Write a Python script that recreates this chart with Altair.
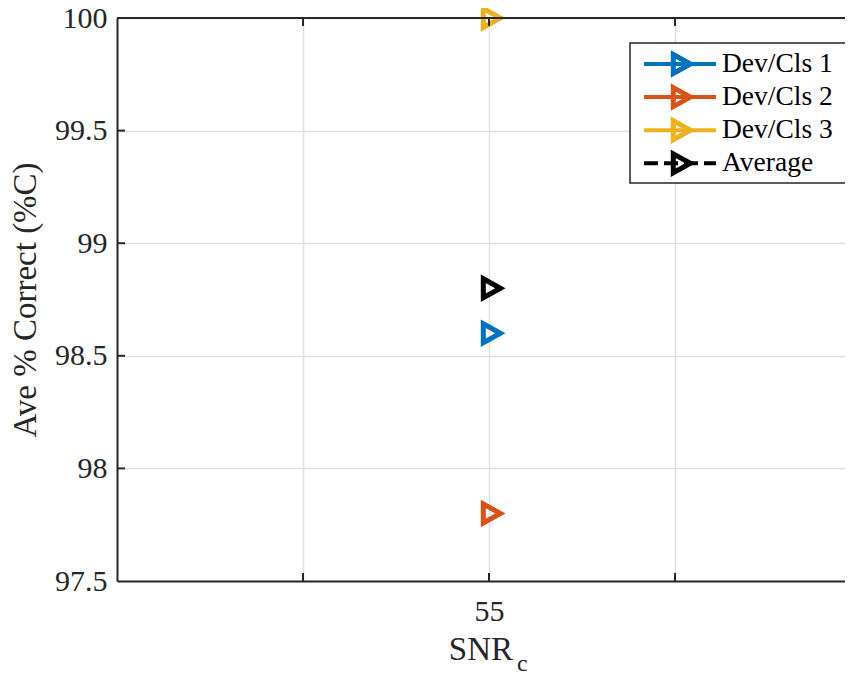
import altair as alt
import pandas as pd

# ---- data ----
series = ["Dev/Cls 1", "Dev/Cls 2", "Dev/Cls 3", "Average"]
snr = [55, 55, 55, 55]
pct = [98.6, 97.8, 100.0, 98.8]
colors = ["#0072BD", "#D95319", "#EDB120", "#000000"]
dashes = [[1, 0], [1, 0], [1, 0], [14, 6]]
x_ticks = [54.5, 55, 55.5]
y_ticks = [97.5, 98, 98.5, 99, 99.5, 100]
y_inner_ticks = [98, 98.5, 99, 99.5]
x_title = ["SNR"]
x_sub = ["c"]
y_title = "Ave % Correct (%C)"

df = pd.DataFrame({"series": series, "snr": snr, "pct": pct})
leg = pd.DataFrame({"series": series})
xt = pd.DataFrame({"v": x_ticks})
yt = pd.DataFrame({"v": y_inner_ticks})

FONT = "Liberation Serif"
AX = "#262626"
TRI = "M -0.6 -1 L 1.2 0 L -0.6 1 Z"
W, H = 728, 563

xscale = alt.Scale(domain=[54, 54 + W / 372], nice=False, zero=False)
yscale = alt.Scale(domain=[97.5, 100], nice=False, zero=False)
cscale = alt.Scale(domain=series, range=colors)
lscale = alt.Scale(type="point", domain=series, range=[46, 145.3], padding=0)

xaxis = alt.Axis(values=x_ticks, labelExpr="datum.value == 55 ? '55' : ''",
                 title=None, labelPadding=15, grid=True)
yaxis = alt.Axis(values=y_ticks, labelExpr="'' + datum.value", title=y_title,
                 labelPadding=10, titlePadding=12, grid=True)

points = alt.Chart(df).mark_point(shape=TRI, size=360, filled=False,
                                  strokeWidth=5, opacity=1).encode(
    x=alt.X("snr:Q", scale=xscale, axis=xaxis),
    y=alt.Y("pct:Q", scale=yscale, axis=yaxis),
    color=alt.Color("series:N", scale=cscale, legend=None),
)

top_line = alt.Chart(pd.DataFrame({"a": [0]})).mark_rule(color=AX, strokeWidth=2).encode(
    x=alt.value(0), x2=alt.value(W), y=alt.value(0))

xtick_bot = alt.Chart(xt).mark_rule(color=AX, strokeWidth=2).encode(
    x=alt.X("v:Q", scale=xscale, axis=xaxis),
    y=alt.value(H), y2=alt.value(H - 8),
)
xtick_top = alt.Chart(xt).mark_rule(color=AX, strokeWidth=2).encode(
    x=alt.X("v:Q", scale=xscale, axis=xaxis),
    y=alt.value(0), y2=alt.value(8),
)
ytick = alt.Chart(yt).mark_rule(color=AX, strokeWidth=2).encode(
    y=alt.Y("v:Q", scale=yscale, axis=None),
    x=alt.value(0), x2=alt.value(8),
)

box = alt.Chart(pd.DataFrame({"a": [0]})).mark_rect(
    fill="white", stroke=AX, strokeWidth=1.5).encode(
    x=alt.value(513), x2=alt.value(733), y=alt.value(25), y2=alt.value(165))

leg_lines = alt.Chart(leg).mark_rule(strokeWidth=4).encode(
    x=alt.value(527), x2=alt.value(599),
    y=alt.Y("series:N", scale=lscale, axis=None),
    color=alt.Color("series:N", scale=cscale, legend=None),
    strokeDash=alt.StrokeDash("series:N", scale=alt.Scale(domain=series, range=dashes), legend=None),
)
leg_pts = alt.Chart(leg).mark_point(shape=TRI, size=360, filled=False,
                                    strokeWidth=5, opacity=1).encode(
    x=alt.value(562),
    y=alt.Y("series:N", scale=lscale, axis=None),
    color=alt.Color("series:N", scale=cscale, legend=None),
)
leg_txt = alt.Chart(leg).mark_text(align="left", baseline="middle", font=FONT,
                                   fontSize=27.5, color="black").encode(
    x=alt.value(605),
    y=alt.Y("series:N", scale=lscale, axis=None),
    text="series:N",
)

xt_main = alt.Chart(pd.DataFrame({"t": x_title})).mark_text(
    align="right", baseline="alphabetic", font=FONT, fontSize=33, color=AX).encode(
    x=alt.value(396), y=alt.value(642), text="t:N")
xt_sub = alt.Chart(pd.DataFrame({"t": x_sub})).mark_text(
    align="left", baseline="alphabetic", font=FONT, fontSize=24, color=AX).encode(
    x=alt.value(400), y=alt.value(653), text="t:N")

chart = alt.layer(
    points, top_line, xtick_bot, xtick_top, ytick, box, leg_lines, leg_pts, leg_txt, xt_main, xt_sub
).resolve_scale(y="independent").properties(
    width=W, height=H,
    autosize=alt.AutoSizeParams(type="none"),
    padding={"left": 109, "top": 10, "right": 0, "bottom": 93},
).configure_axis(
    labelFont=FONT, labelFontSize=30, labelColor=AX,
    titleFont=FONT, titleFontSize=33, titleColor=AX, titleFontWeight="normal",
    domainColor=AX, domainWidth=2, tickSize=0,
    gridColor="#dfdfdf", gridWidth=1.5,
).configure_view(stroke=None)

chart.save("out.html", embed_options={"renderer": "svg", "actions": False})
